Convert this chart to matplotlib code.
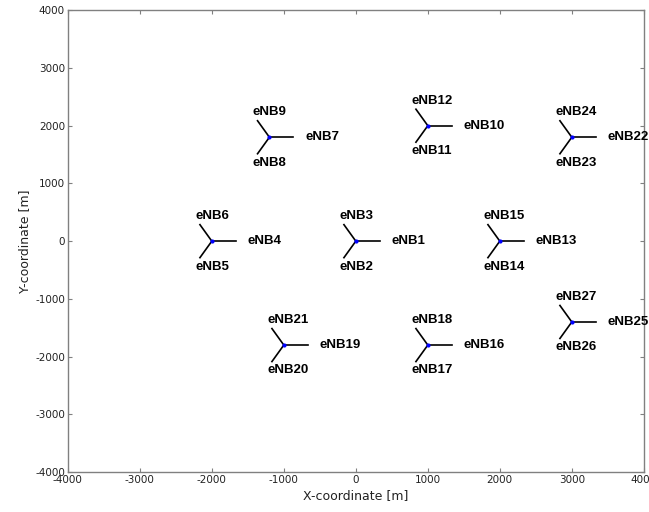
import numpy as np
import matplotlib
matplotlib.use('Agg')
import matplotlib.pyplot as plt

plt.rcParams['font.family'] = ['DejaVu Sans']
plt.rcParams['axes.unicode_minus'] = False

# site centres (x, y) in metres, three sectors each
site_x = [0, -2000, -1200, 1000, 2000, 1000, -1000, 3000, 3000]
site_y = [0, 0, 1800, 2000, 0, -1800, -1800, 1800, -1400]
sector_angles = [0, 240, 120]  # deg, eNB(3k-2), eNB(3k-1), eNB(3k)
sector_len = 330
ticks = [-4000, -3000, -2000, -1000, 0, 1000, 2000, 3000, 4000]

fig = plt.figure(figsize=(6.49, 5.12), dpi=100)
ax = fig.add_axes([0.1045, 0.078, 0.8875, 0.902])

# offsets for the sector labels (left aligned, like matlab text())
label_dx = [500, -230, -230]
label_dy = [0, -440, 430]

n = 1
for cx, cy in zip(site_x, site_y):
    for ang, dx, dy in zip(sector_angles, label_dx, label_dy):
        a = np.deg2rad(ang)
        ax.plot([cx, cx + sector_len * np.cos(a)], [cy, cy + sector_len * np.sin(a)],
                color='black', lw=1.2)
        ax.text(cx + dx, cy + dy, 'eNB%d' % n, fontsize=9.5, fontweight='bold',
                family='Liberation Sans', ha='left', va='center', clip_on=False)
        n += 1
    ax.plot(cx, cy, '.', color='blue', markersize=4)

ax.set_xlim(-4000, 4000)
ax.set_ylim(-4000, 4000)
ax.set_xticks(ticks)
ax.set_yticks(ticks)
ax.tick_params(direction='in', length=3, top=True, right=True, labelsize=7.5,
               color='#808080', labelcolor='#222222', pad=2)
for s in ax.spines.values():
    s.set_color('#808080')
    s.set_linewidth(1.0)
ax.set_xlabel('X-coordinate [m]', fontsize=9, color='#222222', labelpad=3)
ax.set_ylabel('Y-coordinate [m]', fontsize=9, color='#222222', labelpad=3)

fig.savefig('out.png', dpi=100)
